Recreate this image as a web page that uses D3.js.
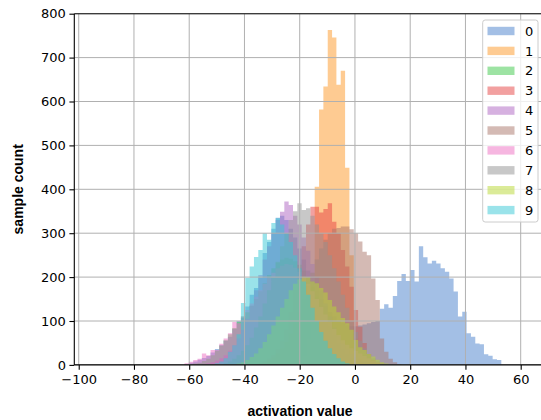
<!DOCTYPE html>
<html>
<head>
<meta charset="utf-8">
<script src="https://cdn.jsdelivr.net/npm/d3@7"></script>
<style>
body{margin:0;background:#fff}
svg{display:block}
</style>
</head>
<body>
<svg id="chart"></svg>
<script>
// shared bin edges: binStart + k*binWidth
const binStart = -61.7
const binWidth = 1.571

const classNames = ['0','1','2','3','4','5','6','7','8','9']
const colors = ['#477fcb','#fd9725','#3bc747','#e54141','#ad63c1','#a97569','#ed6dc1','#919191','#b7d731','#35c7d5']
// index of the first bin of each class
const firstBin = [0,26,2,17,4,17,0,9,12,7]

const counts0 = [2,5,8,12,16,20,28,36,45,55, 64,82,100,107,133,160,175,198,255,280,
  310,335,340,330,310,290,265,240,215,190, 170,150,135,120,110,100,95,90,88,88,
  90,92,95,98,100,128,138,130,157,191, 207,191,216,190,270,245,231,237,231,220,
  212,197,167,110,121,72,64,49,47,24, 21,13,11]
const counts1 = [5,20,60,150,406,582,634,763,746,638,670,449,250,60,15,4]
const counts2 = [3,5,9,14,22,32,44,56,70,84, 98,110,120,135,150,168,186,205,220,233,
  240,244,242,236,228,215,198,178,155,132, 110,88,68,50,35,24,15,9,5,2]
const counts3 = [4,8,14,22,35,55,80,120,170,220, 270,320,360,360,347,355,368,326,300,262,
  224,178,125,87,50,25,12,5]
const counts4 = [2,4,6,10,15,22,32,45,60,80, 105,135,170,205,240,270,300,330,349,372,
  364,340,320,290,260,230,200,170,140,110, 85,65,48,35,25,18,12,8,5,3]
const counts5 = [3,6,10,17,26,38,52,72,95,120, 150,180,210,240,265,285,300,310,312,315,
  315,309,300,281,258,250,197,148,60,30, 14,6,2]
const counts6 = [4,7,11,14,26,22,34,34,48,60, 72,98,95,110,125,140,155,170,185,198,
  210,220,226,230,228,222,212,200,185,168, 150,132,115,98,82,68,56,46,38,32,
  26,20,15,10,6,3]
const counts7 = [4,8,14,22,32,45,62,85,110,140, 170,200,235,270,300,330,350,368,353,357,
  340,320,300,280,250,220,190,160,130,100, 75,55,38,25,15,8,4]
const counts8 = [3,6,11,18,26,38,52,70,90,110, 130,150,170,185,195,201,200,190,186,175,
  165,148,133,120,107,95,80,57,40,34, 25,19,12,6,3]
const counts9 = [4,8,15,30,45,70,141,198,224,246, 262,300,285,323,334,320,300,280,250,220,
  190,160,130,100,75,55,38,25,15,8, 4]
const counts = [counts0,counts1,counts2,counts3,counts4,counts5,counts6,counts7,counts8,counts9]

const xTicks = [-100,-80,-60,-40,-20,0,20,40,60]
const yTicks = [0,100,200,300,400,500,600,700,800]
const xDomain = [-101.6, 68.8]
const yDomain = [0, 800]

const width = 541
const height = 420
const plotLeft = 74.3, plotRight = 545, plotTop = 13.7, plotBottom = 364.9

let svg = d3.select('#chart').attr('width', width).attr('height', height)

let xScale = d3.scaleLinear().domain(xDomain).range([plotLeft, plotRight])
let yScale = d3.scaleLinear().domain(yDomain).range([plotBottom, plotTop])

svg.append('defs').append('clipPath').attr('id','plotclip')
  .append('rect').attr('x',plotLeft).attr('y',plotTop)
  .attr('width',plotRight-plotLeft).attr('height',plotBottom-plotTop)

// histograms as filled step shapes
const area = d3.area()
  .x(d => xScale(d.x))
  .y0(yScale(0))
  .y1(d => yScale(d.y))

const histG = svg.append('g').attr('clip-path','url(#plotclip)')
counts.forEach((arr, c) => {
  const pts = []
  arr.forEach((v, j) => {
    const x0 = binStart + (firstBin[c] + j) * binWidth
    pts.push({x: x0, y: v}, {x: x0 + binWidth, y: v})
  })
  histG.append('path')
    .attr('d', area(pts))
    .attr('fill', colors[c])
    .attr('fill-opacity', 0.5)
})

// grid (drawn above the bars, as in the original)
const gridG = svg.append('g').attr('clip-path','url(#plotclip)')
gridG.selectAll('.vgrid').data(xTicks).enter().append('line')
  .attr('x1', d => xScale(d)).attr('x2', d => xScale(d))
  .attr('y1', plotTop).attr('y2', plotBottom)
  .attr('stroke','#b0b0b0').attr('stroke-width',1)
gridG.selectAll('.hgrid').data(yTicks).enter().append('line')
  .attr('x1', plotLeft).attr('x2', plotRight)
  .attr('y1', d => yScale(d)).attr('y2', d => yScale(d))
  .attr('stroke','#b0b0b0').attr('stroke-width',1)

// axes
let xAxis = d3.axisBottom(xScale).tickValues(xTicks).tickSizeInner(4.9).tickSizeOuter(0).tickPadding(5)
let yAxis = d3.axisLeft(yScale).tickValues(yTicks).tickSizeInner(4.9).tickSizeOuter(0).tickPadding(3.5)
const gx = svg.append('g').attr('transform',`translate(0,${plotBottom})`).call(xAxis)
const gy = svg.append('g').attr('transform',`translate(${plotLeft},0)`).call(yAxis)
;[gx, gy].forEach(g => {
  g.select('.domain').remove()
  g.selectAll('line').attr('stroke','#000').attr('stroke-width',1.1)
  g.selectAll('text').attr('fill','#000')
    .style('font-family','DejaVu Sans').style('font-size','13px')
})

// spines: left, bottom, top
svg.append('line').attr('x1',plotLeft).attr('x2',plotLeft).attr('y1',plotTop).attr('y2',plotBottom)
  .attr('stroke','#000').attr('stroke-width',1.1)
svg.append('line').attr('x1',plotLeft).attr('x2',plotRight).attr('y1',plotBottom).attr('y2',plotBottom)
  .attr('stroke','#000').attr('stroke-width',1.1)
svg.append('line').attr('x1',plotLeft).attr('x2',plotRight).attr('y1',plotTop).attr('y2',plotTop)
  .attr('stroke','#000').attr('stroke-width',1.1)

// axis labels
svg.append('text').attr('x',300).attr('y',416).attr('text-anchor','middle')
  .style('font-family','Liberation Sans').style('font-weight','bold').style('font-size','14px')
  .text('activation value')
svg.append('text').attr('transform',`translate(23,${(plotTop+plotBottom)/2}) rotate(-90)`)
  .attr('text-anchor','middle')
  .style('font-family','Liberation Sans').style('font-weight','bold').style('font-size','14px')
  .text('sample count')

// legend
const legend = svg.append('g')
legend.append('rect').attr('x',482.7).attr('y',20).attr('width',55.3).attr('height',202)
  .attr('rx',2.5).attr('fill','#fff').attr('fill-opacity',0.8)
  .attr('stroke','#cccccc').attr('stroke-width',1)
classNames.forEach((name, i) => {
  const cy = 31 + i * 19.9
  legend.append('rect').attr('x',487.5).attr('y',cy-4.2).attr('width',27).attr('height',8.4)
    .attr('fill',colors[i]).attr('fill-opacity',0.5)
  legend.append('text').attr('x',525).attr('y',cy).attr('dy','0.36em')
    .style('font-family','DejaVu Sans').style('font-size','13px')
    .text(name)
})
</script>
</body>
</html>
